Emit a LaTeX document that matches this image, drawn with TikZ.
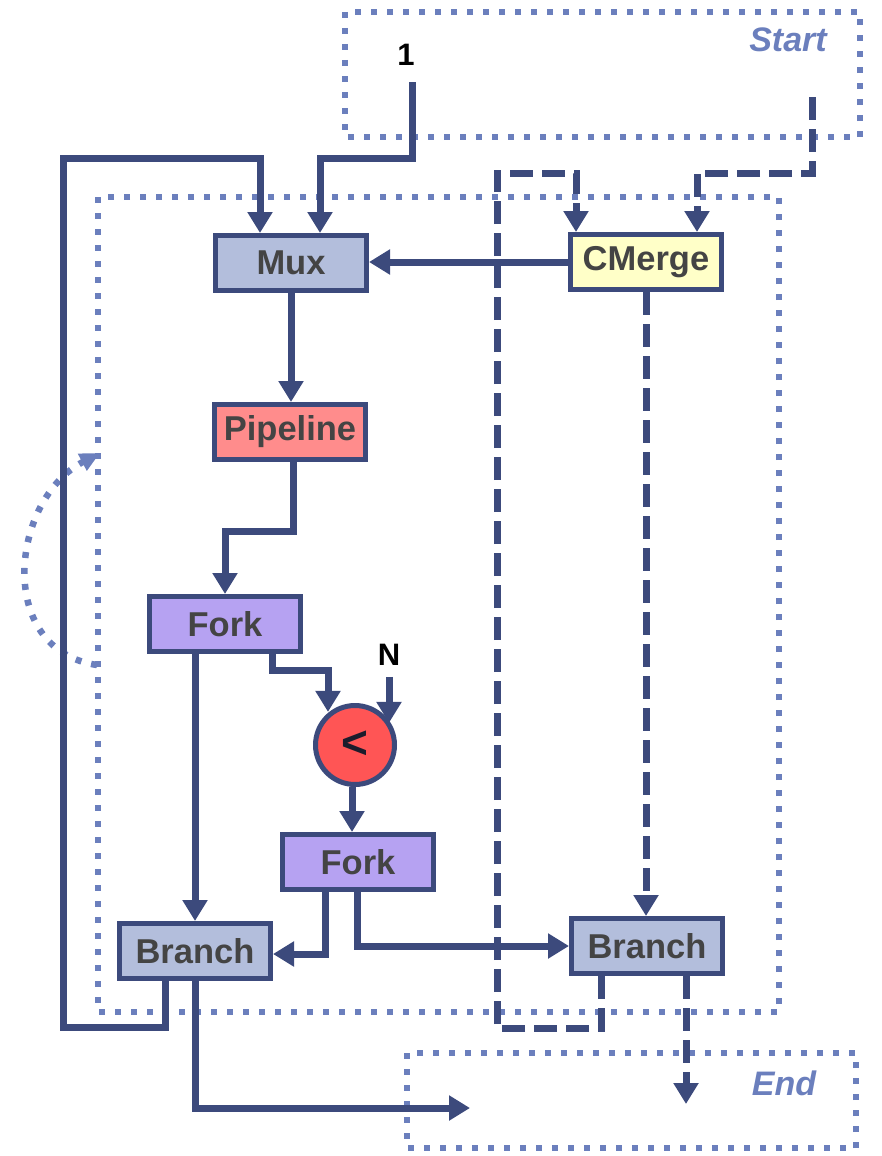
\documentclass[tikz,border=0pt]{standalone}
\usepackage{fontspec}
\setmainfont{Liberation Sans}
\usetikzlibrary{arrows.meta}
\definecolor{navy}{HTML}{3C4A7C}
\definecolor{dotc}{HTML}{6B7FBD}
\definecolor{txtgray}{HTML}{444444}
\definecolor{muxc}{HTML}{B3BEDC}
\definecolor{pipec}{HTML}{FF8C8C}
\definecolor{forkc}{HTML}{B6A2F2}
\definecolor{cmc}{HTML}{FFFFC8}
\definecolor{ltfill}{HTML}{FF5555}
\definecolor{ltc}{HTML}{1C1C2C}
\begin{document}
\begin{tikzpicture}[x=1pt,y=-1pt,
  blk/.style={draw=navy, line width=5pt, minimum width=151pt, minimum height=55pt,
    inner sep=0pt, font=\fontsize{34.5}{40}\selectfont\bfseries, text=txtgray},
  flow/.style={draw=navy, line width=7pt, -{Triangle[length=21pt,width=24pt]}},
  ctrl/.style={flow, dash pattern=on 23pt off 9pt},
  region/.style={draw=dotc, line width=6.5pt, dash pattern=on 6pt off 10pt},
  regionlabel/.style={text=dotc, font=\fontsize{34}{40}\selectfont\bfseries\itshape},
  inlabel/.style={text=black, inner sep=0pt, font=\fontsize{31}{36}\selectfont\bfseries}]
\useasboundingbox (0,0) rectangle (882,1156);

% regions
\draw[region] (345,12) rectangle (860,137);
\node[regionlabel] (startlbl) at (788,40) {Start};
\draw[region] (98,197) rectangle (779,1012);
\draw[region] (407,1053) rectangle (856,1148);
\node[regionlabel] (endlbl) at (784,1083) {End};

% loop-back marker
\draw[region, -{Triangle[length=20pt,width=18pt]}] (97,665) .. controls (-5,650) and (10,500) .. (100,453);

% nodes
\node[blk, fill=muxc] (mux) at (291,263) {Mux};
\node[blk, fill=cmc] (cm) at (646,262) {CMerge};
\node[blk, fill=pipec] (pipe) at (290,432) {Pipeline};
\node[blk, fill=forkc] (fork1) at (225,624) {Fork};
\node[circle, draw=navy, line width=5pt, fill=ltfill, minimum size=79pt, inner sep=0pt,
  font=\fontsize{46}{46}\selectfont\bfseries, text=ltc] (lt) at (355,745) {<};
\node[blk, fill=forkc] (fork2) at (358,862) {Fork};
\node[blk, fill=muxc] (br1) at (195,951) {Branch};
\node[blk, fill=muxc] (br2) at (647,946) {Branch};

\node[inlabel] (one) at (406,55) {1};
\node[inlabel] (nlab) at (389,655) {N};

\coordinate (in1) at (412,82);
\coordinate (startout) at (812,97);
\coordinate (bendA) at (328,670);
\coordinate (exitL) at (470,1108);
\coordinate (exitR) at (686,1104);

% data connectors
\draw[flow] (in1) |- (320,158) -- ([xshift=29pt]mux.north);
\draw[flow] ([xshift=-30pt]br1.south) |- (63,1027) |- (260,158) -- ([xshift=-31pt]mux.north);
\draw[flow] (cm.west) -- (cm.west -| mux.east);
\draw[flow] (mux.south) -- (mux.south |- pipe.north);
\draw[flow] ([xshift=3pt]pipe.south) -- ++(0,69) -| (fork1.north);
\draw[flow] ([xshift=-30pt]fork1.south) -- (br1.north);
\draw[flow] ([xshift=47pt]fork1.south) |- (bendA) -- (bendA |- lt.128);
\draw[flow] ([yshift=-11pt]nlab.south) -- ([yshift=-11pt]nlab.south |- lt.52);
\draw[flow] ([xshift=-3pt]lt.south) -- ([xshift=-3pt]lt.south |- fork2.north);
\draw[flow] ([xshift=-33pt]fork2.south) |- ([yshift=-3pt]br1.east);
\draw[flow] ([xshift=-1pt]fork2.south) |- (br2.west);
\draw[flow] (br1.south) |- (exitL);

% control connectors
\draw[ctrl] (startout) |- (697,173) -- ([xshift=51pt]cm.north);
\draw[ctrl] ([xshift=-46pt]br2.south) |- (497,1028) |- (576,173) -- ([xshift=-70pt]cm.north);
\draw[ctrl] (cm.south) -- (cm.south |- br2.north);
\draw[ctrl] ([xshift=39pt]br2.south) -- (exitR);
\end{tikzpicture}
\end{document}
